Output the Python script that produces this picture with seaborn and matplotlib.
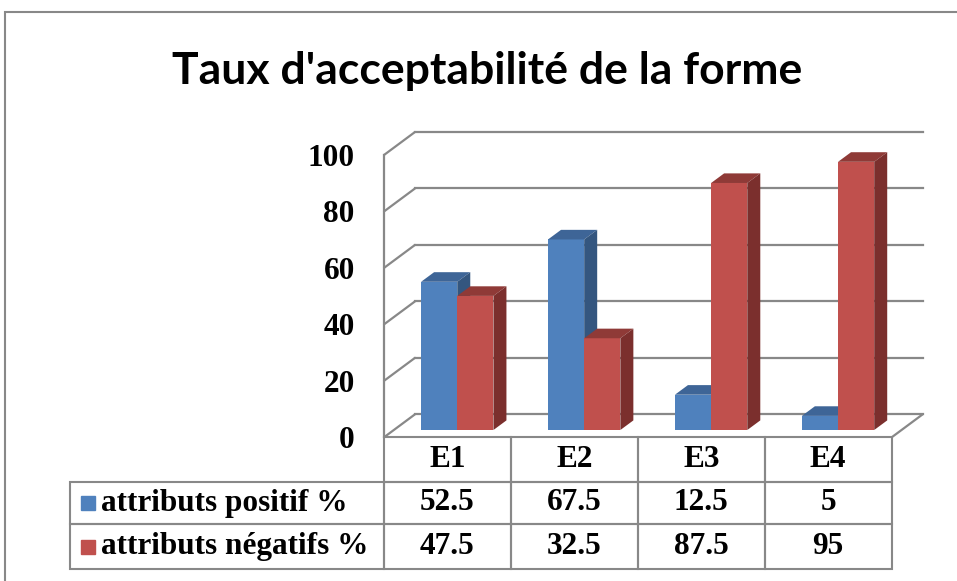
import pandas as pd
import seaborn as sns
import matplotlib.pyplot as plt
from matplotlib.transforms import ScaledTranslation, IdentityTransform
from matplotlib.patches import Polygon, Rectangle, ConnectionPatch
from matplotlib.table import Table

# data
categories = ["E1", "E2", "E3", "E4"]
series = ["attributs positif %", "attributs négatifs %"]
positif = [52.5, 67.5, 12.5, 5]
negatifs = [47.5, 32.5, 87.5, 95]
yticks = [0, 20, 40, 60, 80, 100]
title = "Taux d'acceptabilité de la forme"

blue, red = "#4F81BD", "#C0504D"
top_cols = ["#3E6597", "#8F3A37"]
side_cols = ["#34567F", "#7B2F2D"]
grid_col = "#888888"
serif = dict(fontfamily="Liberation Serif", fontweight="bold", fontsize=22.5)

W, H = 957, 581
fig = plt.figure(figsize=(W / 100, H / 100), dpi=100)
fig.patch.set_facecolor("white")

# front plane of the 3d box, in pixels
X0, X1, YT, YB = 384, 891.7, 155, 437.3
ax = fig.add_axes([X0 / W, 1 - YB / H, (X1 - X0) / W, (YB - YT) / H])
ax.patch.set_alpha(0)

df = pd.DataFrame({
    "cat": categories * 2,
    "val": positif + negatifs,
    "serie": [series[0]] * len(categories) + [series[1]] * len(categories),
})
sns.barplot(data=df, x="cat", y="val", hue="serie", palette=[blue, red],
            width=0.57, saturation=1, legend=False, errorbar=None, ax=ax)
bars = list(ax.patches)
ax.set_xlim(-0.5, len(categories) - 0.5)
ax.set_ylim(0, 100)


def shift(dx, dy):
    return ax.transData + ScaledTranslation(dx / 100, dy / 100, fig.dpi_scale_trans)


back = shift(31, 23)        # back wall
bar_plane = shift(9.8, 7.3)  # front face of the bars
depth = (13, 9.6)          # bar depth in px

lo, hi = ax.get_xlim()
# walls and floor
for v in yticks:
    ax.plot([lo, hi], [v, v], transform=back, color=grid_col, lw=1.6, zorder=1, clip_on=False)
    ax.add_artist(ConnectionPatch((lo, v), (lo, v), coordsA=ax.transData, coordsB=back,
                                  color=grid_col, lw=1.6, zorder=1, clip_on=False))
ax.plot([lo, lo], [0, 100], color=grid_col, lw=1.6, zorder=1, clip_on=False)
ax.add_artist(ConnectionPatch((hi, 0), (hi, 0), coordsA=ax.transData, coordsB=back,
                              color=grid_col, lw=1.6, zorder=1, clip_on=False))

# 3d bars: move front faces back a bit, then add top and side faces
n = len(categories)
for i, p in enumerate(bars):
    k = i // n
    x, w, h = p.get_x(), p.get_width(), p.get_height()
    p.set_transform(bar_plane)
    p.set_clip_on(False)
    p.set_edgecolor("none")
    p.set_zorder(2 + 2 * k)
    fl = bar_plane.transform([(x, 0), (x, h), (x + w, h), (x + w, 0)])
    top = [fl[1], fl[2], fl[2] + depth, fl[1] + depth]
    side = [fl[3], fl[2], fl[2] + depth, fl[3] + depth]
    ax.add_patch(Polygon(top, transform=IdentityTransform(), fc=top_cols[k], ec="none",
                         zorder=2.5 + 2 * k, clip_on=False))
    ax.add_patch(Polygon(side, transform=IdentityTransform(), fc=side_cols[k], ec="none",
                         zorder=2.5 + 2 * k, clip_on=False))

ax.set_yticks(yticks)
ax.set_yticklabels([str(v) for v in yticks], **serif)
ax.tick_params(axis="y", length=0, pad=21)
ax.set_xticks([])
ax.set_xlabel("")
ax.set_ylabel("")
for s in ax.spines.values():
    s.set_visible(False)

# data table under the chart
TL, TB = 70, 569
row_h = [44.4, 42.6, 44.7]
col_w = X0 - TL
cat_w = (X1 - X0) / n
tab = Table(ax, bbox=[(TL - X0) / (X1 - X0), (YB - TB) / (YB - YT),
                      (X1 - TL) / (X1 - X0), (TB - YB) / (YB - YT)])
for j, c in enumerate(categories):
    tab.add_cell(0, j + 1, cat_w, row_h[0], text=c, loc="center")
for i, (name, vals) in enumerate(zip(series, [positif, negatifs])):
    tab.add_cell(i + 1, 0, col_w, row_h[i + 1], text=name, loc="left")
    for j, v in enumerate(vals):
        tab.add_cell(i + 1, j + 1, cat_w, row_h[i + 1], text=f"{v:g}", loc="center")
tab.auto_set_font_size(False)
for cell in tab.get_celld().values():
    cell.set_edgecolor(grid_col)
    cell.set_linewidth(1.5)
    cell.set_facecolor("none")
    cell.get_text().set(**serif)
ax.add_table(tab)

# legend keys in the row labels
for i, col in enumerate([blue, red]):
    yc = YB + sum(row_h[:i + 1]) + row_h[i + 1] / 2
    ax.plot([(88 - X0) / (X1 - X0)], [(YB - yc) / (YB - YT)], transform=ax.transAxes,
            marker="s", ms=10, color=col, ls="none", clip_on=False)

fig.text(487 / W, 1 - 84 / H, title, ha="center", va="baseline",
         fontfamily="Lato", fontweight="bold", fontsize=32)

# chart area border
fig.add_artist(Rectangle((5 / W, -0.05), 1.1, 1.05 - 12 / H, transform=fig.transFigure,
                         fill=False, ec=grid_col, lw=1.5))

fig.savefig("out.png", dpi=100)
